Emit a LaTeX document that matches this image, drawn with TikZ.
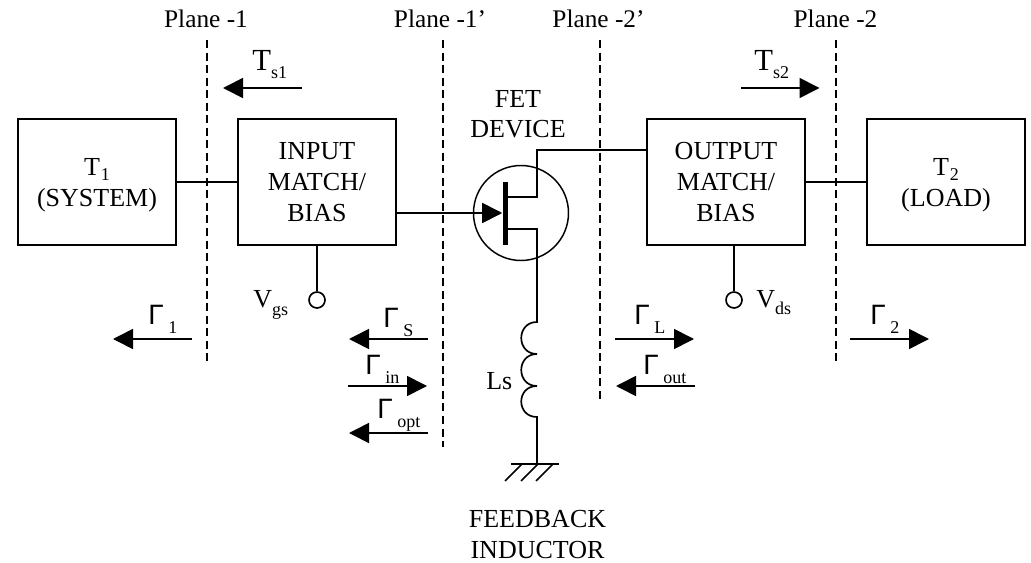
\documentclass[tikz,border=0pt]{standalone}
\usepackage{fontspec}
\setmainfont{Liberation Serif}
\newfontfamily\gamfont{Liberation Sans}
\usetikzlibrary{arrows.meta}
\usetikzlibrary{positioning}

\newcommand{\subfont}{\fontsize{13.5}{16}\selectfont}
\newcommand{\dropsub}[2]{\raisebox{-#1}{\subfont #2}}
\newcommand{\gam}[1]{{\gamfont\fontsize{21}{25}\selectfont Γ}\hspace{3.5pt}\dropsub{6.75pt}{#1}}

\begin{document}
\begin{tikzpicture}[
    x = 0.75pt, y = -0.75pt,
    >=Latex,
    main/.style = {font = \fontsize{19.5}{23.25}\selectfont, inner sep = 0pt, align = center},
    lab/.style = {main, anchor = base west},
    planename/.style = {main, anchor = base, font = \fontsize{19}{23}\selectfont},
    blockbox/.style = {
        main, draw, rectangle, line width = 1.25pt,
        minimum width = 118.5pt, minimum height = 94.5pt
    },
    wire/.style = {black, line width = 1.25pt},
    flow/.style = {wire, -{Triangle[length = 15pt, width = 15pt]}},
    planeline/.style = {black, line width = 0.9pt, dash pattern = on 6pt off 3.4pt},
    pin/.style = {draw, circle, line width = 1.25pt, minimum size = 12pt, inner sep = 0pt},
  ]
  \useasboundingbox (0,0) rectangle (1031,563);

  % blocks
  \node[blockbox] (sys) at (97,182) {\rule{0pt}{17.5pt}T\hspace{0.6pt}\dropsub{3.75pt}{1}\\(SYSTEM)};
  \node[blockbox] (inmatch) at (317,182) {INPUT\\MATCH/\\BIAS};
  \node[blockbox] (outmatch) at (726,182) {OUTPUT\\MATCH/\\BIAS};
  \node[blockbox] (load) at (946,182) {\rule{0pt}{17.5pt}T\hspace{0.6pt}\dropsub{3.75pt}{2}\\(LOAD)};

  \draw[wire] (sys) -- (inmatch);
  \draw[wire] (outmatch) -- (load);

  % planes
  \node[planename] (pl1) at (206,28) {Plane -1};
  \node[planename] (pl1p) at (440,28) {Plane -1’};
  \node[planename] (pl2p) at (598.5,28) {Plane -2’};
  \node[planename] (pl2) at (835.5,28) {Plane -2};

  \coordinate (pl1a) at (207,40);
  \coordinate (pl1b) at (207,365);
  \coordinate (pl1pa) at (443,40);
  \coordinate (pl1pb) at (443,447);
  \coordinate (pl2pa) at (600,40);
  \coordinate (pl2pb) at (600,402);
  \coordinate (pl2a) at (836,40);
  \coordinate (pl2b) at (836,365);

  \draw[planeline] (pl1a) -- (pl1b);
  \draw[planeline] (pl1pa) -- (pl1pb);
  \draw[planeline] (pl2pa) -- (pl2pb);
  \draw[planeline] (pl2a) -- (pl2b);

  % FET
  \node[main, anchor = base] (fetname) at (518,138) {FET\\[-0.2pt]DEVICE};
  \node[draw, circle, line width = 1.1pt, minimum size = 71.25pt, inner sep = 0pt] (fet) at (521,213) {};
  \node[fill = black, rectangle, minimum width = 3.75pt, minimum height = 47.25pt, inner sep = 0pt] (gatebar) at (505,213.5) {};

  \coordinate (draintop) at (537,150);
  \coordinate (drainmid) at (537,197);
  \coordinate (srcmid) at (537,229);
  \coordinate (indtop) at (537,322);
  \coordinate (gnd) at (537,464);
  \coordinate (gndl) at (511,464);
  \coordinate (gndr) at (559,464);

  \draw[wire, -{Triangle[length = 15pt, width = 15pt]}] (inmatch.east |- fet) -- (gatebar.west |- fet);
  \draw[wire] (gatebar.east |- drainmid) -- (drainmid) -- (draintop) -- (draintop -| outmatch.west);

  % feedback inductor
  \draw[wire] (gatebar.east |- srcmid) -- (srcmid) -- (indtop)
    .. controls (516,322) and (516,354) .. (537,354)
    .. controls (516,354) and (516,386) .. (537,386)
    .. controls (516,386) and (516,417) .. (537,417)
    -- (gnd);
  \draw[wire] (gndl) -- (gndr);
  \foreach \hx in {522,538,553}
    \draw[wire] (\hx,464) -- ++(-17,17);

  \node[lab] (lsname) at (486,389) {Ls};
  \node[main, anchor = base] (fbname) at (537.5,558) {FEEDBACK\\[-0.2pt]INDUCTOR};

  % bias pins
  \node[pin] (vgspin) at (317,300) {};
  \node[pin] (vdspin) at (734,300) {};
  \draw[wire] (inmatch.south -| vgspin) -- (vgspin);
  \draw[wire] (outmatch.south -| vdspin) -- (vdspin);
  \node[lab] (vgs) at (253,307) {V\dropsub{6pt}{gs}};
  \node[lab] (vds) at (756,307) {V\dropsub{5.25pt}{ds}};

  % wave arrows
  \coordinate (ts1a) at (302,88);
  \coordinate (ts1b) at (223,88);
  \coordinate (ts2a) at (741,88);
  \coordinate (ts2b) at (819.5,88);
  \coordinate (g1a) at (192,339);
  \coordinate (g1b) at (113,339);
  \coordinate (gsa) at (428,339);
  \coordinate (gsb) at (349,339);
  \coordinate (gina) at (348,386);
  \coordinate (ginb) at (427,386);
  \coordinate (gopta) at (428,433);
  \coordinate (goptb) at (349,433);
  \coordinate (gla) at (615,339);
  \coordinate (glb) at (694,339);
  \coordinate (gouta) at (695,386);
  \coordinate (goutb) at (616,386);
  \coordinate (g2a) at (850,339);
  \coordinate (g2b) at (929,339);

  \draw[flow] (ts1a) -- (ts1b);
  \draw[flow] (ts2a) -- (ts2b);
  \draw[flow] (g1a) -- (g1b);
  \draw[flow] (gsa) -- (gsb);
  \draw[flow] (gina) -- (ginb);
  \draw[flow] (gopta) -- (goptb);
  \draw[flow] (gla) -- (glb);
  \draw[flow] (gouta) -- (goutb);
  \draw[flow] (g2a) -- (g2b);

  \node[lab, font = \fontsize{23}{27}\selectfont] (ts1) at (252,71) {T\dropsub{6pt}{s1}};
  \node[lab, font = \fontsize{23}{27}\selectfont] (ts2) at (754,71) {T\dropsub{6pt}{s2}};

  \node[lab] (gam1) at (148,324) {\gam{1}};
  \node[lab] (gams) at (383,327) {\gam{S}};
  \node[lab] (gamin) at (365,374) {\gam{in}};
  \node[lab] (gamopt) at (377,418) {\gam{opt}};
  \node[lab] (gaml) at (634,324) {\gam{L}};
  \node[lab] (gamout) at (643,374) {\gam{out}};
  \node[lab] (gam2) at (870,324) {\gam{2}};
\end{tikzpicture}
\end{document}
